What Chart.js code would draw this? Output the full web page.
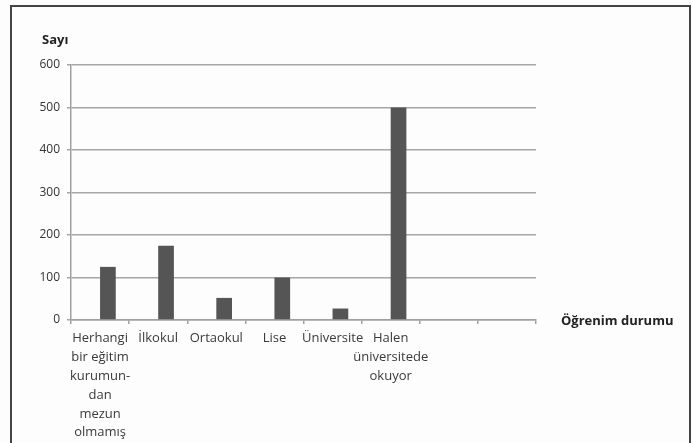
<!DOCTYPE html>
<html>
<head>
<meta charset="utf-8">
<script src="https://cdn.jsdelivr.net/npm/chart.js@4/dist/chart.umd.min.js"></script>
<style>
  html, body { margin: 0; padding: 0; background: #fdfdfd; }
  #wrap { position: relative; width: 692px; height: 443px; overflow: hidden; }
  #frame { position: absolute; left: 10px; top: 5px; width: 677px; height: 460px;
           border: 2px solid #444; box-sizing: content-box; pointer-events: none; }
  canvas { position: absolute; left: 0; top: 0; }
</style>
</head>
<body>
<div id="wrap">
  <canvas id="c" width="692" height="443"></canvas>
  <div id="frame"></div>
</div>
<script>
// Categories (x axis), two trailing empty slots as in the original
const categories = [
  ['Herhangi', 'bir eğitim', 'kurumun-', 'dan', 'mezun', 'olmamış'],
  'İlkokul',
  'Ortaokul',
  'Lise',
  'Üniversite',
  ['Halen', 'üniversitede', 'okuyor'],
  '',
  ''
];
// Counts (Sayı)
const counts = [125, 175, 52, 100, 27, 500, null, null];
// Empty companion series (the original has an empty first series in each group)
const emptySeries = [null, null, null, null, null, null, null, null];
// Axis settings
const yMin = 0, yMax = 600, yStep = 100;
const yTitle = 'Sayı';
const xTitle = 'Öğrenim durumu';

const FONT = "'Open Sans', 'DejaVu Sans', sans-serif";

const titlesPlugin = {
  id: 'axisTitles',
  afterDraw(chart) {
    const ctx = chart.ctx;
    const xs = chart.scales.x, ys = chart.scales.y;
    ctx.save();
    ctx.fillStyle = '#222';
    ctx.font = 'bold 13px ' + FONT;
    ctx.textBaseline = 'middle';
    ctx.textAlign = 'left';
    ctx.fillText(yTitle, 42, ys.top - 25);
    ctx.fillText(xTitle, xs.right + 25, ys.getPixelForValue(0) + 1);
    ctx.restore();
  }
};

new Chart(document.getElementById('c'), {
  type: 'bar',
  data: {
    labels: categories,
    datasets: [
      { label: '', data: emptySeries, backgroundColor: '#555555' },
      { label: yTitle, data: counts, backgroundColor: '#555555' }
    ]
  },
  options: {
    responsive: false,
    animation: false,
    layout: { padding: { left: 0, top: 65, right: 156, bottom: 0 } },
    plugins: {
      legend: { display: false },
      tooltip: { enabled: false },
      title: { display: false }
    },
    datasets: { bar: { categoryPercentage: 0.54, barPercentage: 1.0 } },
    scales: {
      x: {
        offset: true,
        grid: { display: true, drawOnChartArea: false, drawTicks: true, tickLength: 4,
                offset: true, color: '#a0a0a0', lineWidth: 1.5 },
        border: { display: true, color: '#a0a0a0', width: 1.5 },
        ticks: { autoSkip: false, maxRotation: 0, minRotation: 0, padding: 5,
                 color: '#3a3a3a', font: { family: FONT, size: 13, lineHeight: 1.45 } },
        afterFit(scale) { scale.height = 123; }
      },
      y: {
        min: yMin, max: yMax,
        grid: { color: '#a6a6a6', lineWidth: 1.5, drawTicks: true, tickLength: 4 },
        border: { display: true, color: '#a0a0a0', width: 1.5 },
        ticks: { stepSize: yStep, padding: 7, color: '#333',
                 font: { family: FONT, size: 12 } },
        afterFit(scale) { scale.width = 71; }
      }
    }
  },
  plugins: [titlesPlugin]
});
</script>
</body>
</html>
